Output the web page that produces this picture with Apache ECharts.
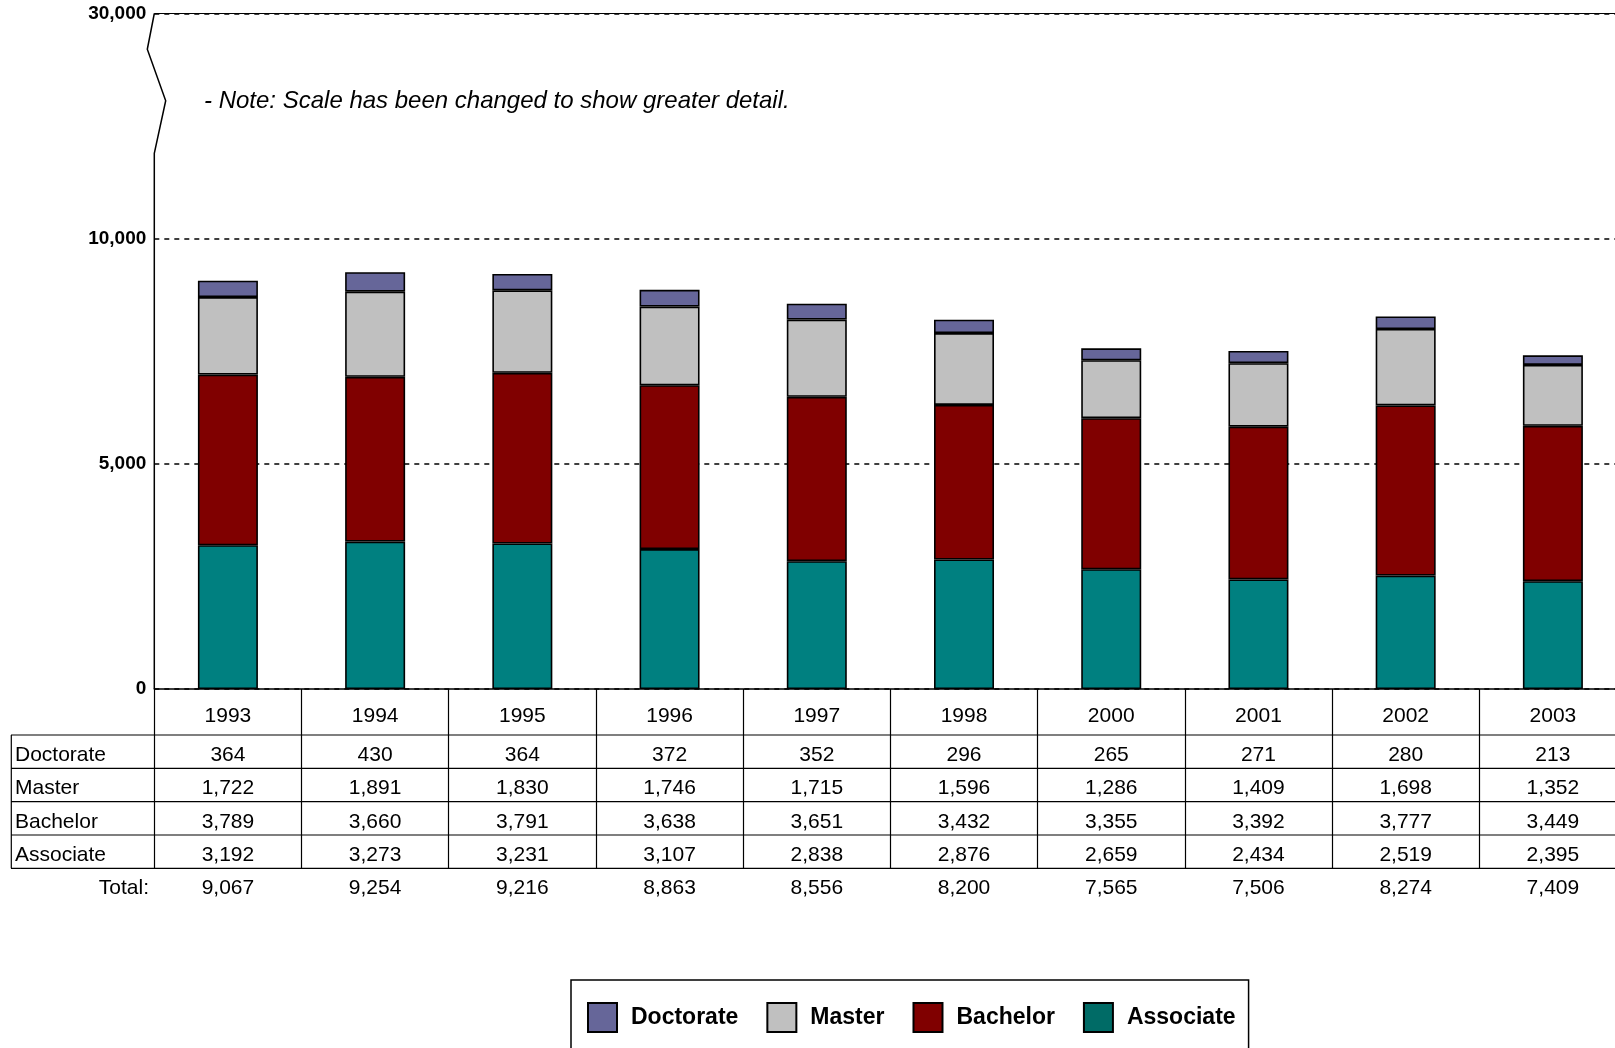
<!DOCTYPE html>
<html>
<head>
<meta charset="utf-8">
<script src="https://cdn.jsdelivr.net/npm/echarts/dist/echarts.min.js"></script>
<style>
html,body{margin:0;padding:0;background:#fff;}
#chart{width:1615px;height:1048px;}
</style>
</head>
<body>
<div id="chart"></div>
<script>
// ---- data ----
const years = ['1993','1994','1995','1996','1997','1998','2000','2001','2002','2003'];
const doctorate = [364, 430, 364, 372, 352, 296, 265, 271, 280, 213];
const master = [1722, 1891, 1830, 1746, 1715, 1596, 1286, 1409, 1698, 1352];
const bachelor = [3789, 3660, 3791, 3638, 3651, 3432, 3355, 3392, 3777, 3449];
const associate = [3192, 3273, 3231, 3107, 2838, 2876, 2659, 2434, 2519, 2395];
const totals = [9067, 9254, 9216, 8863, 8556, 8200, 7565, 7506, 8274, 7409];
const yTickLabels = ['0', '5,000', '10,000', '30,000'];
const rowNames = ['Doctorate', 'Master', 'Bachelor', 'Associate'];
const noteText = '- Note: Scale has been changed to show greater detail.';

// ---- layout ----
const FONT = '"Liberation Sans", Arial, sans-serif';
const gridLeft = 154.3, gridTop = 13.5, gridBottomY = 689, gridWidth = 1472.2;
const colors = {Doctorate:'#666699', Master:'#C0C0C0', Bachelor:'#800000', Associate:'#008080'};
const fmt = v => Number(v).toLocaleString('en-US');

const rowData = [doctorate, master, bachelor, associate, totals];
const yearCenter = 26.8;
const rowCenters = [66.2, 99.5, 132.8, 166.2, 199.5];

const xAxes = [{
  type: 'category', data: years, gridIndex: 0, position: 'bottom',
  axisLine: {show: true, lineStyle: {color: '#000', width: 1.5}},
  axisTick: {show: true, length: 179.3, lineStyle: {color: '#000', width: 1.2}},
  axisLabel: {interval: 0, margin: yearCenter, verticalAlign: 'middle', fontFamily: FONT, fontSize: 21, color: '#000'},
  splitLine: {show: false}
}];
rowData.forEach((arr, i) => {
  xAxes.push({
    type: 'category', data: arr.map(fmt), gridIndex: 0, position: 'bottom',
    axisLine: {show: false}, axisTick: {show: false}, splitLine: {show: false},
    axisLabel: {interval: 0, margin: rowCenters[i], verticalAlign: 'middle', fontFamily: FONT, fontSize: 21, color: '#000'}
  });
});

function bar(name, data) {
  return {
    name, type: 'bar', stack: 'total', data, barWidth: 60,
    itemStyle: {color: colors[name], borderColor: '#000', borderWidth: 1.6},
    emphasis: {disabled: true}
  };
}

const tableLineYs = [735, 768.3, 801.7, 835, 868.3];
const graphics = [];
tableLineYs.forEach(y => graphics.push({
  type: 'line', shape: {x1: 11, y1: y, x2: 1615, y2: y}, style: {stroke: '#000', lineWidth: 1.2}, silent: true
}));
graphics.push({type: 'line', shape: {x1: 11.3, y1: 735, x2: 11.3, y2: 868.3}, style: {stroke: '#000', lineWidth: 1.2}, silent: true});
// broken y axis line
graphics.push({type: 'polyline', shape: {points: [[gridLeft, gridBottomY], [gridLeft, 153.3], [165.7, 100.7], [147.3, 49.3], [gridLeft, gridTop]]},
  style: {stroke: '#000', lineWidth: 1.5, fill: null}, silent: true});
// top border line
graphics.push({type: 'line', shape: {x1: gridLeft, y1: gridTop, x2: 1615, y2: gridTop}, style: {stroke: '#000', lineWidth: 1}, silent: true});
// row labels
rowNames.forEach((n, i) => graphics.push({
  type: 'text', x: 15, y: gridBottomY + rowCenters[i],
  style: {text: n, font: '21px ' + FONT, fill: '#000', align: 'left', verticalAlign: 'middle'}, silent: true
}));
graphics.push({type: 'text', x: 149, y: gridBottomY + rowCenters[4],
  style: {text: 'Total:', font: '21px ' + FONT, fill: '#000', align: 'right', verticalAlign: 'middle'}, silent: true});

const chart = echarts.init(document.getElementById('chart'), null, {renderer: 'canvas'});
chart.setOption({
  backgroundColor: '#fff',
  animation: false,
  title: {
    text: noteText, left: 199, top: 84,
    textStyle: {fontFamily: FONT, fontSize: 24, fontStyle: 'italic', fontWeight: 'normal', color: '#000'}
  },
  grid: {left: gridLeft, top: gridTop, width: gridWidth, bottom: 1048 - gridBottomY, containLabel: false, outerBoundsMode: 'none'},
  xAxis: xAxes,
  yAxis: {
    type: 'value', min: 0, max: 15000, interval: 5000,
    axisLine: {show: false}, axisTick: {show: false},
    axisLabel: {margin: 8, fontFamily: FONT, fontSize: 19, fontWeight: 'bold', color: '#000',
      formatter: v => yTickLabels[Math.round(v / 5000)]},
    splitLine: {show: true, lineStyle: {color: '#000', type: [5, 5], width: 1.5}}
  },
  legend: {
    left: 571, top: 980, orient: 'horizontal',
    padding: [22, 13, 22, 16],
    borderColor: '#000', borderWidth: 1.5, backgroundColor: '#fff',
    itemWidth: 29, itemHeight: 29, itemGap: 28,
    icon: 'rect',
    selectedMode: false,
    textStyle: {fontFamily: FONT, fontSize: 23, fontWeight: 'bold', color: '#000', padding: [0, 0, 0, 9]},
    data: [
      {name: 'Doctorate'},
      {name: 'Master'},
      {name: 'Bachelor'},
      {name: 'Associate', itemStyle: {color: '#006B66'}}
    ]
  },
  series: [bar('Associate', associate), bar('Bachelor', bachelor), bar('Master', master), bar('Doctorate', doctorate)],
  graphic: graphics
});
</script>
</body>
</html>
